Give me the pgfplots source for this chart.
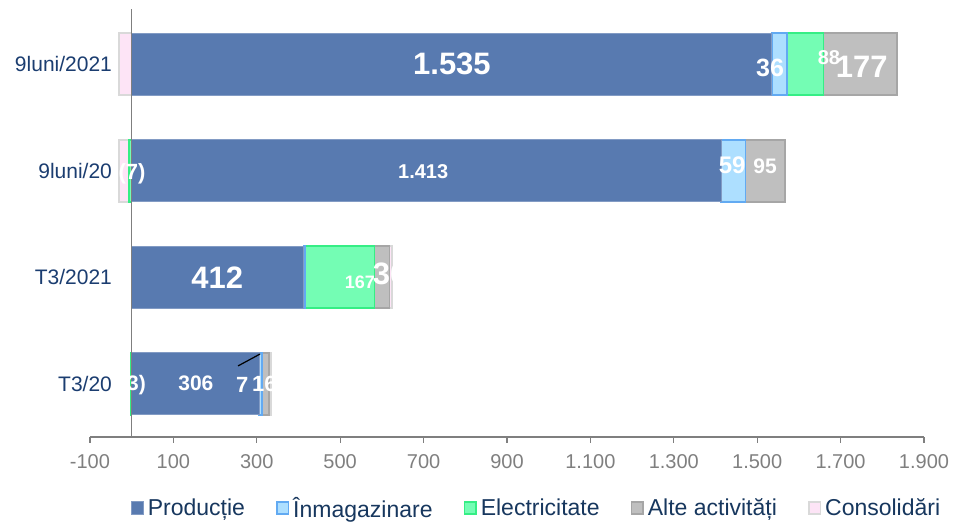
\documentclass[border=0pt]{standalone}
\usepackage{fontspec}
\setmainfont{Liberation Sans}
\usepackage{pgfplots}
\pgfplotsset{compat=1.18}
\definecolor{prodc}{HTML}{587AB0}
\definecolor{inmc}{HTML}{ADDFFF}
\definecolor{inmd}{HTML}{62AAF2}
\definecolor{elc}{HTML}{74FDB4}
\definecolor{eld}{HTML}{35EE85}
\definecolor{altc}{HTML}{BFBFBF}
\definecolor{altd}{HTML}{A6A6A6}
\definecolor{conc}{HTML}{FDE4F6}
\definecolor{cond}{HTML}{D9D9D9}
\definecolor{catblue}{HTML}{1B3D70}
\definecolor{tickgray}{HTML}{7F7F7F}
\definecolor{legtext}{HTML}{17375E}
\tikzset{
  lbl/.style={text=white, inner sep=0pt, font=\bfseries\fontsize{10.5}{12}\selectfont},
  lblbig/.style={lbl, font=\bfseries\fontsize{15.5}{18}\selectfont},
}
\pgfplotsset{
  frame/.style={
    width=417pt, height=213pt, scale only axis,
    xmin=-100, xmax=1900, ymin=-0.5, ymax=3.5,
    enlargelimits=false,
  },
  base/.style={frame, xbar stacked, bar width=31pt},
  prod/.style={fill=prodc, draw=prodc!75!white, line width=0.4pt},
  inm/.style={fill=inmc, draw=inmd, line width=0.8pt},
  el/.style={fill=elc, draw=eld, line width=0.8pt},
  alt/.style={fill=altc, draw=altd, line width=0.8pt},
  con/.style={fill=conc, draw=cond, line width=0.8pt},
}
\begin{document}
\begin{tikzpicture}
% negative parts, stacked to the left of zero
\begin{axis}[base, hide axis]
\addplot[el] coordinates {(-3,0) (0,1) (-7,2) (0,3)};
\addplot[con] coordinates {(0,0) (0,1) (-24,2) (-31,3)};
\end{axis}
% positive parts
\begin{axis}[base,
  axis lines*=left,
  x axis line style={tickgray, line width=0.6pt},
  y axis line style={draw=none},
  xtick={-100,100,300,500,700,900,1100,1300,1500,1700,1900},
  xticklabels={-100,100,300,500,700,900,1.100,1.300,1.500,1.700,1.900},
  xtick align=outside, major tick length=3pt,
  xtick style={tickgray, line width=0.6pt},
  xticklabel style={font=\fontsize{10}{12}\selectfont, text=tickgray, yshift=-2pt},
  ytick={0,1,2,3},
  yticklabels={T3/20,T3/2021,9luni/20,9luni/2021},
  ytick style={draw=none},
  yticklabel style={font=\fontsize{10.5}{12}\selectfont, text=catblue, xshift=14.5pt},
  legend columns=-1,
  legend style={at={(rel axis cs:0.537,-0.168)}, anchor=center, draw=none,
    font=\fontsize{11.5}{13}\selectfont, text=legtext,
    /tikz/every even column/.append style={column sep=13.5pt}},
  legend image code/.code={\draw[#1] (0pt,-2.8pt) rectangle (5.8pt,3.4pt);},
]
\addplot[prod] coordinates {(306,0) (412,1) (1413,2) (1535,3)};
\addlegendentry{Producție}
\addplot[inm] coordinates {(7,0) (3,1) (59,2) (36,3)};
\addlegendentry{Înmagazinare}
\addplot[el] coordinates {(0,0) (167,1) (0,2) (88,3)};
\addlegendentry{Electricitate}
\addplot[alt] coordinates {(16,0) (36,1) (95,2) (177,3)};
\addlegendentry{Alte activități}
\addplot[con] coordinates {(5,0) (6,1) (0,2) (0,3)};
\addlegendentry{Consolidări}
\end{axis}
% zero line, leader line and value labels on top
\begin{axis}[frame, hide axis, clip=false]
\draw[tickgray, line width=0.6pt] (axis cs:0,-0.5) -- (axis cs:0,3.52);
\draw[black, line width=0.6pt] (axis cs:255,0.167) -- (axis cs:308,0.279);

\node[lblbig] at (axis cs:768,3) {1.535};
\node[lbl, font=\bfseries\fontsize{12.5}{14}\selectfont] at (axis cs:1531,2.97) {36};
\node[lbl, font=\bfseries\fontsize{10}{12}\selectfont] at (axis cs:1672,3.06) {88};
\node[lblbig] at (axis cs:1751,2.98) {177};
\node[lbl, font=\bfseries\fontsize{10}{12}\selectfont] at (axis cs:699,1.99) {1.413};
\node[lbl, font=\bfseries\fontsize{12}{14}\selectfont] at (axis cs:1440,2.05) {59};
\node[lbl] at (axis cs:1519,2.04) {95};
\node[lbl, font=\bfseries\fontsize{11}{13}\selectfont] at (axis cs:1,1.97) {(7)};
\node[lblbig] at (axis cs:205,1.0) {412};
\node[lbl, font=\bfseries\fontsize{9}{11}\selectfont] at (axis cs:547,0.955) {167};
\node[lblbig] at (axis cs:620,1.03) {36};
\node[lbl] at (axis cs:3,-0.01) {(3)};
\node[lbl] at (axis cs:154,0) {306};
\node[lbl, font=\bfseries\fontsize{11}{13}\selectfont] at (axis cs:265,-0.01) {7};
\node[lbl, font=\bfseries\fontsize{11}{13}\selectfont] at (axis cs:318,0) {16};

\coordinate (bl) at (rel axis cs:-0.1079,-0.2042);
\coordinate (tr) at (rel axis cs:1.0372,1.0258);
\end{axis}
\pgfresetboundingbox
\path (bl) rectangle (tr);
\end{tikzpicture}
\end{document}
